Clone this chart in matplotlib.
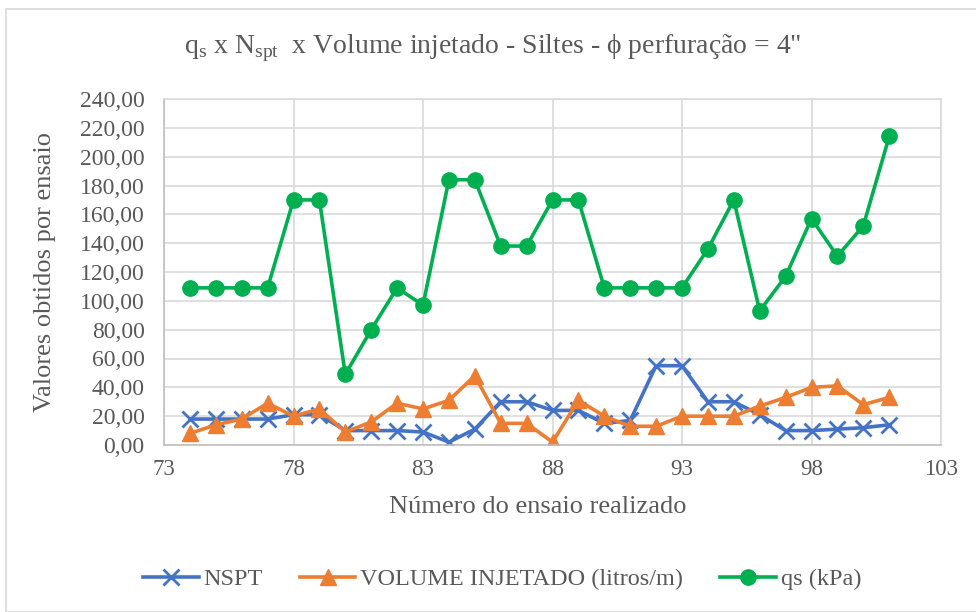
import matplotlib
matplotlib.use("Agg")
import matplotlib.pyplot as plt
from matplotlib.ticker import FuncFormatter, MultipleLocator

plt.rcParams['font.family'] = ['Liberation Serif', 'DejaVu Serif']

ensaio = list(range(74, 102))
nspt = [18, 18, 18, 18, 21, 21, 10, 10, 10, 9, 2, 11, 30, 30, 24, 24,
        15, 17, 55, 55, 30, 30, 21, 10, 10, 11, 12, 14]
volume = [8, 14, 18, 29, 20, 25, 9, 16, 29, 25, 31, 48, 15, 15, 2, 31,
          20, 13, 13, 20, 20, 20, 27, 33, 40, 41, 28, 33]
qs = [109, 109, 109, 109, 170, 170, 49, 80, 109, 97, 184, 184, 138, 138,
      170, 170, 109, 109, 109, 109, 136, 170, 93, 117, 157, 131, 152, 214]
xticks = [73, 78, 83, 88, 93, 98, 103]

labels = ['NSPT', 'VOLUME INJETADO (litros/m)', 'qs (kPa)']
colors = ['#4472C4', '#ED7D31', '#00B050']
text_color = '#595959'
grid_color = '#D9D9D9'

fig = plt.figure(figsize=(9.76, 6.12), dpi=100)
ax = fig.add_axes([164 / 976, 1 - 445 / 612, (941 - 164) / 976, (445 - 99) / 612])

ax.plot(ensaio, nspt, color=colors[0], lw=2.6, marker='x', ms=11, mew=2,
        label=labels[0])
ax.plot(ensaio, volume, color=colors[1], lw=2.6, marker='^', ms=11,
        label=labels[1])
ax.plot(ensaio, qs, color=colors[2], lw=2.6, marker='o', ms=11,
        label=labels[2])

ax.set_xlim(73, 103)
ax.set_ylim(0, 240)
ax.set_xticks(xticks)
ax.yaxis.set_major_locator(MultipleLocator(20))
ax.yaxis.set_major_formatter(FuncFormatter(lambda v, p: f"{v:.2f}".replace('.', ',')))
ax.grid(True, color=grid_color, lw=1.2)
ax.set_axisbelow(True)
for s in ax.spines.values():
    s.set_color(grid_color)
    s.set_linewidth(1.2)
ax.spines['left'].set_color('#BFBFBF')
ax.spines['bottom'].set_color('#BFBFBF')
ax.tick_params(length=0, labelsize=17, colors=text_color)
ax.tick_params(axis='y', pad=14)
ax.tick_params(axis='x', pad=10, labelsize=16.5)

ax.set_xlabel('Número do ensaio realizado', fontsize=19, color=text_color)
ax.set_ylabel('Valores obtidos por ensaio', fontsize=19, color=text_color)
ax.xaxis.set_label_coords((538 - 164) / 777, -(507 - 445) / 346)
ax.yaxis.set_label_coords(-(164 - 45) / 777, 0.5)
ax.xaxis.label.set_va('center')
ax.yaxis.label.set_va('center')

fig.text(0.505, 1 - 48 / 612,
         r"q$_\mathregular{s}$ x N$_\mathregular{spt}$  x Volume injetado - Siltes - ϕ perfuração = 4" + '"',
         ha='center', va='center', fontsize=20, color=text_color)

fig.legend(loc='center', bbox_to_anchor=(502 / 976, 1 - 579 / 612), ncol=3, frameon=False,
           fontsize=17.5, labelcolor=text_color, handlelength=2.3, columnspacing=1.5,
           handletextpad=0.2)

border = plt.Rectangle((6 / 976, 0), 1, 1 - 9 / 612, transform=fig.transFigure,
                       fill=False, edgecolor='#D9D9D9', lw=1.2)
fig.add_artist(border)

fig.savefig('out.png', dpi=100)
